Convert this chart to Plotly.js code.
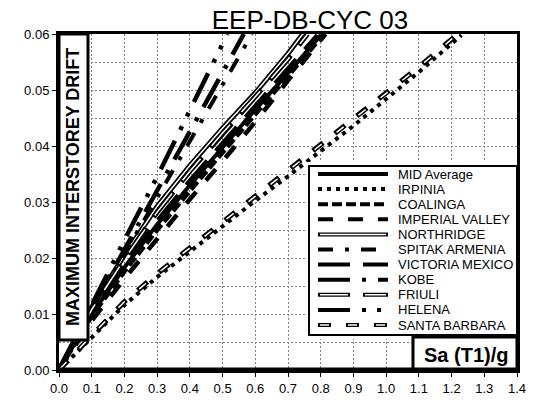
<!DOCTYPE html>
<html>
<head>
<meta charset="utf-8">
<script src="https://cdn.plot.ly/plotly-3.0.1.min.js"></script>
<style>
  html, body { margin: 0; padding: 0; background: #fff; }
  #chart { width: 535px; height: 408px; }
</style>
</head>
<body>
<div id="chart"></div>
<script>
// Incremental dynamic analysis: spectral acceleration Sa(T1)/g vs. peak interstorey drift

const recordNames = ['MID Average', 'IRPINIA', 'COALINGA', 'IMPERIAL VALLEY', 'NORTHRIDGE',
  'SPITAK ARMENIA', 'VICTORIA MEXICO', 'KOBE', 'FRIULI', 'HELENA', 'SANTA BARBARA'];

const saMidAverage      = [0, 0.1, 0.2, 0.3, 0.4, 0.5, 0.6, 0.7, 0.8];
const driftMidAverage   = [0, 0.0100, 0.0183, 0.0260, 0.0330, 0.0398, 0.0465, 0.0530, 0.0598];

const saIrpinia         = [0, 0.1, 0.2, 0.3, 0.4, 0.5, 0.6, 0.7, 0.8, 0.9, 1.0, 1.1, 1.23];
const driftIrpinia      = [0, 0.0058, 0.0116, 0.0166, 0.0212, 0.0258, 0.0302, 0.0346, 0.0390, 0.0436, 0.0484, 0.0532, 0.0598];

const saCoalinga        = [0, 0.1, 0.2, 0.3, 0.4, 0.5, 0.6, 0.7, 0.8, 0.81];
const driftCoalinga     = [0, 0.0096, 0.0176, 0.0250, 0.0320, 0.0388, 0.0456, 0.0523, 0.0592, 0.0600];

const saImperialValley    = [0, 0.1, 0.2, 0.3, 0.4, 0.5, 0.6, 0.7, 0.8, 0.815];
const driftImperialValley = [0, 0.0088, 0.0163, 0.0235, 0.0305, 0.0373, 0.0443, 0.0517, 0.0590, 0.0600];

const saNorthridge      = [0, 0.1, 0.2, 0.3, 0.4, 0.5, 0.6, 0.7, 0.745];
const driftNorthridge   = [0, 0.0112, 0.0205, 0.0292, 0.0365, 0.0432, 0.0495, 0.0565, 0.0600];

const saSpitak          = [0, 0.1, 0.2, 0.3, 0.4, 0.5, 0.59];
const driftSpitak       = [0, 0.0106, 0.0207, 0.0307, 0.0407, 0.0508, 0.0600];

const saVictoria        = [0, 0.1, 0.2, 0.3, 0.4, 0.5, 0.6, 0.7, 0.79];
const driftVictoria     = [0, 0.0102, 0.0188, 0.0266, 0.0338, 0.0405, 0.0472, 0.0537, 0.0598];

const saKobe            = [0, 0.1, 0.2, 0.3, 0.4, 0.5, 0.565];
const driftKobe         = [0, 0.0110, 0.0215, 0.0320, 0.0425, 0.0530, 0.0600];

const saFriuli          = [0, 0.1, 0.2, 0.3, 0.4, 0.5, 0.6, 0.7, 0.76];
const driftFriuli       = [0, 0.0108, 0.0198, 0.0282, 0.0355, 0.0423, 0.0488, 0.0555, 0.0600];

const saHelena          = [0, 0.1, 0.2, 0.3, 0.4, 0.5, 0.515];
const driftHelena       = [0, 0.0118, 0.0232, 0.0345, 0.0465, 0.0582, 0.0600];

const saSantaBarbara    = [0, 0.1, 0.2, 0.3, 0.4, 0.5, 0.6, 0.7, 0.8, 0.9, 1.0, 1.1, 1.215];
const driftSantaBarbara = [0, 0.0062, 0.0122, 0.0172, 0.0218, 0.0264, 0.0310, 0.0355, 0.0402, 0.0447, 0.0494, 0.0541, 0.0598];

const xTickValues = [0, 0.1, 0.2, 0.3, 0.4, 0.5, 0.6, 0.7, 0.8, 0.9, 1.0, 1.1, 1.2, 1.3, 1.4];
const yTickValues = [0, 0.01, 0.02, 0.03, 0.04, 0.05, 0.06];

const seriesData = [
  [saMidAverage, driftMidAverage],
  [saIrpinia, driftIrpinia],
  [saCoalinga, driftCoalinga],
  [saImperialValley, driftImperialValley],
  [saNorthridge, driftNorthridge],
  [saSpitak, driftSpitak],
  [saVictoria, driftVictoria],
  [saKobe, driftKobe],
  [saFriuli, driftFriuli],
  [saHelena, driftHelena],
  [saSantaBarbara, driftSantaBarbara]
];

// Line styling per record (outlined lines get a white core drawn on top)
const lineStyles = [
  { width: 4,   dash: 'solid' },
  { width: 4,   dash: '4px,5px' },
  { width: 4.5, dash: '10px,4px' },
  { width: 4.5, dash: '15px,15px' },
  { width: 5,   dash: 'solid', innerWidth: 1.5, innerDash: 'solid' },
  { width: 4,   dash: '15px,12px,4px,12px' },
  { width: 4.5, dash: '32px,13px' },
  { width: 4.5, dash: '32px,12px,4px,12px' },
  { width: 5,   dash: '32px,13px', innerWidth: 1.5, innerDash: '0px,2px,28px,15px' },
  { width: 4.5, dash: '32px,12px,4px,11px,4px,12px' },
  { width: 5,   dash: '13px,15px', innerWidth: 1.5, innerDash: '0px,2px,9px,17px' }
];

const traces = [];
seriesData.forEach(function (d, i) {
  const st = lineStyles[i];
  traces.push({
    x: d[0], y: d[1], name: recordNames[i], mode: 'lines', xaxis: 'x', yaxis: 'y',
    line: { color: '#000', width: st.width, dash: st.dash }, hoverinfo: 'skip'
  });
  if (st.innerWidth) {
    traces.push({
      x: d[0], y: d[1], name: recordNames[i], mode: 'lines', xaxis: 'x', yaxis: 'y',
      line: { color: '#fff', width: st.innerWidth, dash: st.innerDash }, hoverinfo: 'skip'
    });
  }
});

// Key panel: an inset axis pair measured in page pixels
const KEY_X0 = 309, KEY_X1 = 517, KEY_Y0 = 166, KEY_Y1 = 335;
const SAMPLE_X0 = 318, SAMPLE_X1 = 388, LABEL_X = 396;
const ROW_TOP = 174, ROW_STEP = 15.1;
const keyAnnotations = [];
recordNames.forEach(function (name, i) {
  const st = lineStyles[i];
  const ry = ROW_TOP + i * ROW_STEP;
  traces.push({
    x: [SAMPLE_X0, SAMPLE_X1], y: [ry, ry], mode: 'lines', xaxis: 'x2', yaxis: 'y2',
    line: { color: '#000', width: 4, dash: st.dash }, hoverinfo: 'skip'
  });
  if (st.innerWidth) {
    const start = st.innerDash === 'solid' ? SAMPLE_X0 + 2 : SAMPLE_X0;
    traces.push({
      x: [start, SAMPLE_X1 - 2], y: [ry, ry], mode: 'lines', xaxis: 'x2', yaxis: 'y2',
      line: { color: '#fff', width: 1.5, dash: st.innerDash }, hoverinfo: 'skip'
    });
  }
  keyAnnotations.push({
    xref: 'x2', yref: 'y2', x: LABEL_X, y: ry, text: name, showarrow: false,
    xanchor: 'left', yanchor: 'middle', font: { size: 13, color: '#000' }
  });
});

const W = 535, H = 408;
const M = { l: 59, r: 18, t: 34, b: 38 };
const PW = W - M.l - M.r, PH = H - M.t - M.b;
const px = function (v) { return (v - M.l) / PW; };
const py = function (v) { return (H - M.b - v) / PH; };

const gridColor = '#808080';

const layout = {
  width: W, height: H,
  margin: M,
  paper_bgcolor: '#fff', plot_bgcolor: '#fff',
  font: { family: 'Liberation Sans, Arial, sans-serif', size: 13, color: '#000' },
  showlegend: false,
  title: {
    text: 'EEP-DB-CYC 03', font: { size: 26, color: '#000' },
    xref: 'container', x: 310 / W, xanchor: 'center',
    yref: 'container', y: 1 - 29 / H, yanchor: 'bottom'
  },
  xaxis: {
    range: [0, 1.4], tickvals: xTickValues, tickformat: '.1f',
    showgrid: true, gridcolor: gridColor, griddash: '2px,2px', gridwidth: 1,
    showline: true, linecolor: '#000', linewidth: 3, mirror: true,
    ticks: 'outside', ticklen: 4, tickcolor: '#000', tickwidth: 1,
    zeroline: false, fixedrange: true
  },
  yaxis: {
    range: [0, 0.06], tickvals: yTickValues, tickformat: '.2f',
    showgrid: true, gridcolor: gridColor, griddash: '2px,2px', gridwidth: 1,
    minor: { dtick: 0.005, tick0: 0, showgrid: true, gridcolor: gridColor, griddash: '2px,2px', gridwidth: 1, ticks: '' },
    showline: true, linecolor: '#000', linewidth: 3, mirror: true,
    ticks: 'outside', ticklen: 4, tickcolor: '#000', tickwidth: 1,
    zeroline: false, fixedrange: true
  },
  xaxis2: {
    domain: [px(305), 1], range: [305, W - M.r], anchor: 'y2',
    visible: false, showgrid: false, zeroline: false, fixedrange: true
  },
  yaxis2: {
    domain: [py(339), py(162)], range: [339, 162], anchor: 'x2',
    visible: false, showgrid: false, zeroline: false, fixedrange: true
  },
  shapes: [
    // key panel frame (sits over the curves, under the key samples)
    { type: 'rect', xref: 'x2', yref: 'y2', layer: 'below', x0: KEY_X0, x1: KEY_X1, y0: KEY_Y0, y1: KEY_Y1,
      fillcolor: '#fff', line: { color: '#000', width: 2 } },
    // framed y-axis title panel
    { type: 'rect', xref: 'paper', yref: 'paper', layer: 'above', x0: 0, x1: px(88), y0: py(340), y1: 1,
      fillcolor: '#fff', line: { color: '#000', width: 3 } },
    // framed x-axis title panel
    { type: 'rect', xref: 'paper', yref: 'paper', layer: 'above', x0: px(413), x1: 1, y0: 0, y1: py(337),
      fillcolor: '#fff', line: { color: '#000', width: 3 } },
    // heavier baseline
    { type: 'line', xref: 'paper', yref: 'paper', layer: 'above', x0: 0, x1: 1, y0: 0, y1: 0,
      line: { color: '#000', width: 5 } }
  ],
  annotations: [
    { xref: 'paper', yref: 'paper', x: px(73), y: py(187), text: '<b>MAXIMUM INTERSTOREY DRIFT</b>',
      textangle: -90, showarrow: false, xanchor: 'center', yanchor: 'middle', font: { size: 18, color: '#000' } },
    { xref: 'paper', yref: 'paper', x: px(466), y: py(355), text: '<b>Sa (T1)/g</b>',
      showarrow: false, xanchor: 'center', yanchor: 'middle', font: { size: 20, color: '#000' } }
  ].concat(keyAnnotations)
};

Plotly.newPlot('chart', traces, layout, { staticPlot: true, displayModeBar: false });
</script>
</body>
</html>
